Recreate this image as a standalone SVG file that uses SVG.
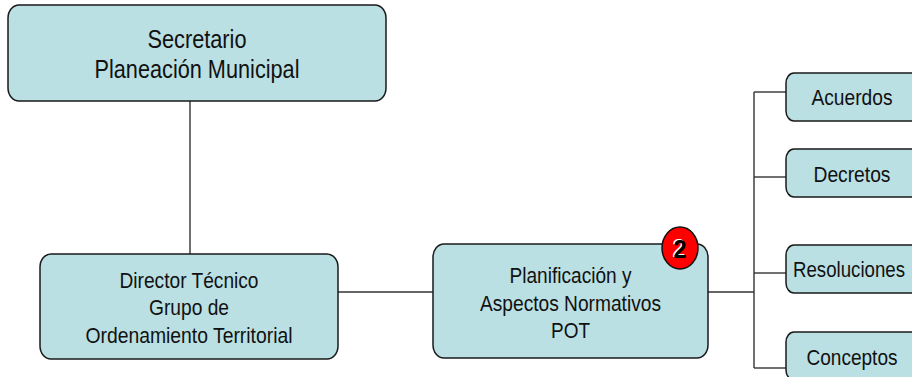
<svg xmlns="http://www.w3.org/2000/svg" width="912" height="377" viewBox="0 0 912 377">
  <style>
    .box { fill: #BAE0E3; stroke: #1a1a1a; stroke-width: 1.5; }
    .lbl { font-family: "Liberation Sans", Arial, sans-serif; font-size: 22px; fill: #111; text-anchor: middle; }
    .big { font-size: 25px; }
    .wire { stroke: #333; stroke-width: 1.4; fill: none; }
    .badge { fill: #FF0000; stroke: #111; stroke-width: 1.5; }
    .num { font-family: "Liberation Sans", Arial, sans-serif; font-size: 26px; font-weight: bold; text-anchor: middle; }
  </style>
  <rect width="912" height="377" fill="#ffffff"/>

  <!-- connectors -->
  <g id="connectors">
    <line class="wire" x1="190" y1="101" x2="190" y2="254"/>
    <line class="wire" x1="338" y1="292" x2="433" y2="292"/>
    <line class="wire" x1="708" y1="292" x2="754" y2="292"/>
    <line class="wire" x1="754" y1="92" x2="754" y2="368"/>
    <line class="wire" x1="754" y1="92" x2="786" y2="92"/>
    <line class="wire" x1="754" y1="177" x2="786" y2="177"/>
    <line class="wire" x1="754" y1="273" x2="786" y2="273"/>
    <line class="wire" x1="754" y1="368" x2="786" y2="368"/>
  </g>

  <g id="secretario">
    <rect class="box" x="8" y="5" width="378" height="96" rx="11" ry="13"/>
    <text class="lbl big" x="197" y="48" textLength="99" lengthAdjust="spacingAndGlyphs">Secretario</text>
    <text class="lbl big" x="197" y="78" textLength="205" lengthAdjust="spacingAndGlyphs">Planeación Municipal</text>
  </g>

  <g id="director">
    <rect class="box" x="40" y="254" width="298" height="105" rx="11" ry="13"/>
    <text class="lbl" x="189" y="288" textLength="139" lengthAdjust="spacingAndGlyphs">Director Técnico</text>
    <text class="lbl" x="189" y="315" textLength="80" lengthAdjust="spacingAndGlyphs">Grupo de</text>
    <text class="lbl" x="189" y="343" textLength="207" lengthAdjust="spacingAndGlyphs">Ordenamiento Territorial</text>
  </g>

  <g id="planificacion">
    <rect class="box" x="433" y="244" width="275" height="114" rx="11" ry="13"/>
    <text class="lbl" x="570.5" y="283" textLength="122" lengthAdjust="spacingAndGlyphs">Planificación y</text>
    <text class="lbl" x="570.5" y="311" textLength="181" lengthAdjust="spacingAndGlyphs">Aspectos Normativos</text>
    <text class="lbl" x="570.5" y="338" textLength="39" lengthAdjust="spacingAndGlyphs">POT</text>
  </g>

  <g id="badge">
    <ellipse class="badge" cx="680" cy="248" rx="18" ry="21"/>
    <text class="num" x="678.8" y="257" fill="#ffffff" textLength="13" lengthAdjust="spacingAndGlyphs">2</text>
    <text class="num" x="680" y="258" fill="#000000" textLength="13" lengthAdjust="spacingAndGlyphs">2</text>
  </g>

  <g id="acuerdos">
    <rect class="box" x="786" y="73" width="140" height="48" rx="8" ry="10"/>
    <text class="lbl" x="852" y="104.5" textLength="81" lengthAdjust="spacingAndGlyphs">Acuerdos</text>
  </g>

  <g id="decretos">
    <rect class="box" x="786" y="149" width="140" height="48" rx="8" ry="10"/>
    <text class="lbl" x="852" y="181.5" textLength="77" lengthAdjust="spacingAndGlyphs">Decretos</text>
  </g>

  <g id="resoluciones">
    <rect class="box" x="786" y="245" width="140" height="48" rx="8" ry="10"/>
    <text class="lbl" x="849" y="277" textLength="112" lengthAdjust="spacingAndGlyphs">Resoluciones</text>
  </g>

  <g id="conceptos">
    <rect class="box" x="786" y="332" width="140" height="48" rx="8" ry="10"/>
    <text class="lbl" x="852" y="365" textLength="91" lengthAdjust="spacingAndGlyphs">Conceptos</text>
  </g>
</svg>
